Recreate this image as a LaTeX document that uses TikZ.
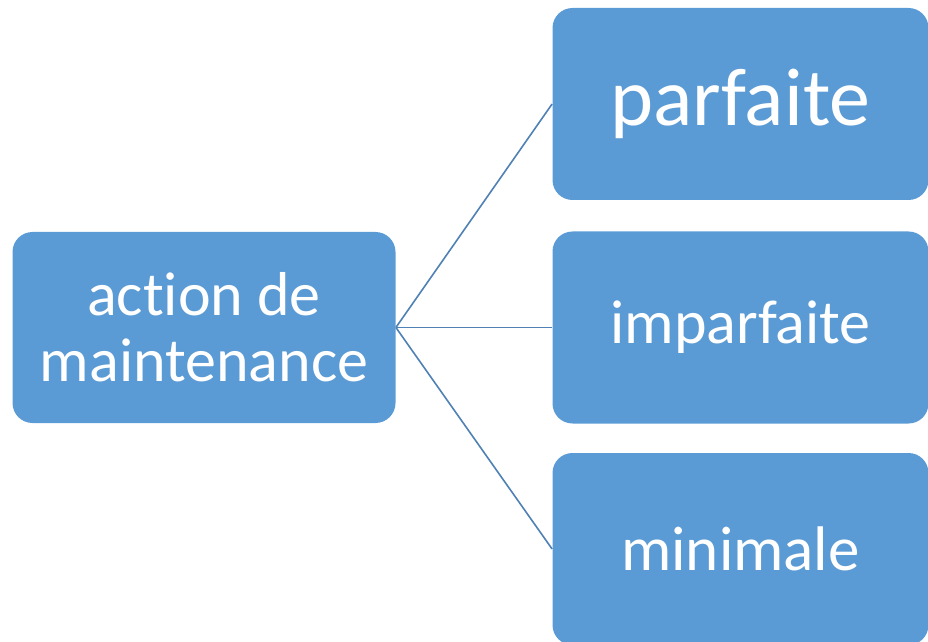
\documentclass[tikz,border=0pt]{standalone}
\usepackage{fontspec}
\setmainfont{Carlito}[Ligatures=NoCommon]
\usetikzlibrary{positioning}

\begin{document}
\begin{tikzpicture}[x=0.5pt,y=-0.5pt,line join=round,
	boite/.style={fill=boxblue,text=white,rounded corners=10pt,inner sep=0pt,align=center,minimum width=188pt,minimum height=96pt},
	lien/.style={draw=linkblue,line width=0.8pt}]
		\definecolor{boxblue}{HTML}{5B9BD5}
		\definecolor{linkblue}{HTML}{4F81B4}
		\useasboundingbox (0,0) rectangle (928,642);
		\node[boite,minimum width=191.5pt,minimum height=95.5pt,font=\fontsize{31}{33}\selectfont] (act) at (204,327.5) {action de\\maintenance};
		\node[boite,font=\fontsize{41}{44}\selectfont] (par) at (740.5,104) {parfaite};
		\node[boite,font=\fontsize{31}{34}\selectfont] (imp) at (740.5,327.5) {imparfaite};
		\node[boite,font=\fontsize{31.5}{34}\selectfont] (min) at (740.5,549) {minimale};
		\foreach \b in {par,imp,min}{\draw[lien](act.east)--(\b.west);}
		\end{tikzpicture}
\end{document}
